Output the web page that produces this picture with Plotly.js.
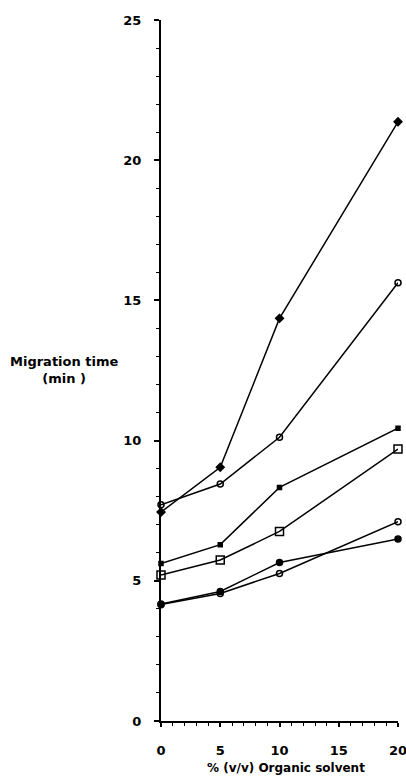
<!DOCTYPE html>
<html><head><meta charset="utf-8">
<script src="https://cdn.plot.ly/plotly-3.0.1.min.js"></script>
<style>body{margin:0;background:#fff}#c{width:406px;height:778px}</style>
</head><body><div id="c"></div>
<script>
const solvent = [0, 5, 10, 20];
const s1 = [7.45, 9.05, 14.36, 21.37];
const s2 = [7.71, 8.45, 10.12, 15.63];
const s3 = [5.62, 6.29, 8.33, 10.44];
const s4 = [5.21, 5.74, 6.76, 9.70];
const s5 = [4.17, 4.62, 5.65, 6.49];
const s6 = [4.15, 4.55, 5.26, 7.11];
const xTicks = [0, 5, 10, 15, 20];
const yTicks = [0, 5, 10, 15, 20, 25];

const series = [
  {y: s1, symbol: 'diamond', size: 6},
  {y: s2, symbol: 'circle-open', size: 6},
  {y: s3, symbol: 'square', size: 4},
  {y: s4, symbol: 'square-open', size: 8},
  {y: s5, symbol: 'circle', size: 6},
  {y: s6, symbol: 'circle-open', size: 6}
];
const traces = series.map(s => ({
  x: solvent, y: s.y, type: 'scatter', mode: 'lines+markers',
  line: {color: '#000', width: 1.5},
  marker: {symbol: s.symbol, size: s.size, color: '#000', line: {color: '#000', width: 1.5}},
  cliponaxis: false, showlegend: false
}));
const F = 'DejaVu Sans, Arial, sans-serif';
const f = {family: F, size: 13, color: '#000'};
const layout = {
  width: 406, height: 778,
  margin: {l: 161, r: 8, t: 20, b: 57},
  paper_bgcolor: '#fff', plot_bgcolor: '#fff',
  font: f,
  xaxis: {range: [0, 20], tickmode: 'array', tickvals: xTicks, ticktext: xTicks.map(v => '<b>' + v + '</b>'),
          showgrid: false, zeroline: false, showline: true, linecolor: '#000', linewidth: 2,
          ticks: 'outside', ticklen: 4, tickwidth: 2, tickcolor: '#000',
          minor: {dtick: 1, ticks: 'outside', ticklen: 3, tickwidth: 1, tickcolor: '#000', showgrid: false},
          tickfont: f, ticklabelstandoff: 12, ticklabeloverflow: 'allow'},
  yaxis: {range: [0, 25], tickmode: 'array', tickvals: yTicks, ticktext: yTicks.map(v => '<b>' + v + '</b>'),
          showgrid: false, zeroline: false, showline: true, linecolor: '#000', linewidth: 2,
          ticks: 'outside', ticklen: 5, tickwidth: 2, tickcolor: '#000',
          minor: {dtick: 1, ticks: 'outside', ticklen: 3, tickwidth: 1, tickcolor: '#000', showgrid: false},
          tickfont: f, ticklabelstandoff: 10},
  annotations: [
    {xref: 'paper', yref: 'paper', x: -0.409, y: 0.501, xanchor: 'center', yanchor: 'middle', showarrow: false,
     text: '<b>Migration time</b><br><b>(min )</b>', font: {family: F, size: 13}, align: 'center'},
    {xref: 'paper', yref: 'paper', x: 0.527, y: -0.067, xanchor: 'center', yanchor: 'middle', showarrow: false,
     text: '<b>% (v/v) Organic solvent</b>', font: {family: F, size: 12}}
  ]
};
Plotly.newPlot('c', traces, layout, {staticPlot: true});
</script></body></html>
